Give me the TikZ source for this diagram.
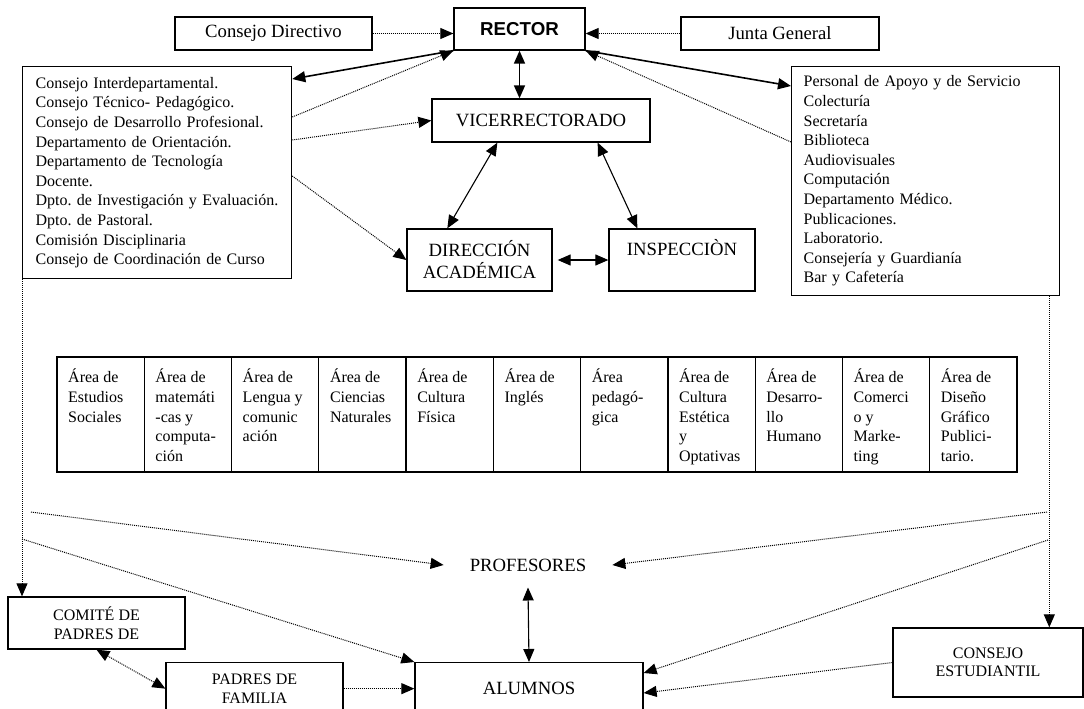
\documentclass[tikz,border=0pt]{standalone}
\usepackage{fontspec}
\setmainfont{Liberation Serif}
\newfontfamily\rectorfont{Liberation Sans}
\usetikzlibrary{arrows.meta, positioning, calc}
\frenchspacing

\begin{document}
\begin{tikzpicture}[x=1pt, y=-1pt, >={Triangle[length=13pt,width=11pt]},
  box/.style={draw, line width=1.3pt, inner sep=0pt, align=center},
  big/.style={font=\fontsize{18.7}{22}\selectfont},
  small/.style={font=\fontsize{16}{18.5}\selectfont},
  list/.style={font=\fontsize{16}{19.6}\selectfont, align=left},
  link/.style={line width=1.6pt},
  thinlink/.style={line width=1.1pt},
  dot/.style={line width=1pt, dash pattern=on 1pt off 1pt}
]
\useasboundingbox (0,0) rectangle (1084,709);

% Top row
\node[box, big, minimum width=197pt, minimum height=33pt] (cdir) at (273.5,33.5) {Consejo Directivo};
\node[box, font={\rectorfont\bfseries\fontsize{18.7}{22}\selectfont}, minimum width=131pt, minimum height=42pt] (rector) at (519.5,29) {RECTOR};
\node[box, big, minimum width=198pt, minimum height=33pt] (junta) at (780,33.5) {Junta General};

% Side lists
\node[box, list, anchor=north west, text width=243pt, inner xsep=13pt, minimum height=212pt] (council) at (22,66) {Consejo Interdepartamental.\\
  Consejo Técnico- Pedagógico.\\
  Consejo de Desarrollo Profesional.\\
  Departamento de Orientación.\\
  Departamento de Tecnología\\
  Docente.\\
  Dpto. de Investigación y Evaluación.\\
  Dpto. de Pastoral.\\
  Comisión Disciplinaria\\
  Consejo de Coordinación de Curso};
\node[box, list, anchor=north west, text width=244pt, inner xsep=12pt, minimum height=229pt] (services) at (791,66) {Personal de Apoyo y de Servicio\\
  Colecturía\\
  Secretaría\\
  Biblioteca\\
  Audiovisuales\\
  Computación\\
  Departamento Médico.\\
  Publicaciones.\\
  Laboratorio.\\
  Consejería y Guardianía\\
  Bar y Cafetería};

% Middle
\node[box, big, minimum width=218pt, minimum height=43pt] (vice) at (541,120.5) {VICERRECTORADO};
\node[box, big, minimum width=145pt, minimum height=62pt] (dir) at (479.5,260) {DIRECCIÓN\\ACADÉMICA};
\node[box, big, minimum width=146pt, minimum height=62pt, text height=14pt, text depth=23pt] (insp) at (682,260) {INSPECCIÒN};

% Areas
\draw[line width=1.3pt] (57,357) rectangle (1017,472);
\foreach \i in {1,...,10}
  \draw[line width=1.3pt] ({57+87.27*\i},357) -- ({57+87.27*\i},472);
\foreach \txt [count=\i from 0] in {{Área de\\Estudios\\Sociales},
    {Área de\\matemáti\\-cas y\\computa-\\ción},
    {Área de\\Lengua y\\comunic\\ación},
    {Área de\\Ciencias\\Naturales},
    {Área de\\Cultura\\Física},
    {Área de\\Inglés},
    {Área\\pedagó-\\gica},
    {Área de\\Cultura\\Estética\\y\\Optativas},
    {Área de\\Desarro-\\llo\\Humano},
    {Área de\\Comerci\\o y\\Marke-\\ting},
    {Área de\\Diseño\\Gráfico\\Publici-\\tario.}}
  \node[list, inner sep=0pt, anchor=north west] (area\i) at ({68+87.27*\i},369) {\txt};

% Bottom
\node[big, inner xsep=26pt, inner ysep=16pt] (prof) at (528,565) {PROFESORES};
\node[box, big, anchor=north, minimum width=228pt, minimum height=52pt] (alum) at (529,662) {ALUMNOS};
\node[box, small, anchor=north, minimum width=177pt, minimum height=52pt] (padres) at (254.5,662) {PADRES DE\\FAMILIA};
\node[box, small, minimum width=177pt, minimum height=52pt] (comite) at (96.5,623) {COMITÉ DE\\PADRES DE};
\node[box, small, minimum width=190pt, minimum height=69pt] (cest) at (988,662.5) {CONSEJO\\ESTUDIANTIL};

% Connections at the top
\draw[dot, ->] (cdir.east) -- (cdir.east -| rector.west);
\draw[dot, ->] (junta.west) -- (junta.west -| rector.east);
\draw[link, <->] (rector.south) -- (rector.south |- vice.north);
\draw[link, ->] (rector.south west) -- ($(council.north east)+(0,13)$);
\draw[dot, ->] ($(council.north east)+(0,51)$) -- (rector.south west);
\draw[dot, ->] ($(council.north east)+(0,74)$) -- (vice.west);
\draw[dot, ->] ($(council.north east)+(0,110)$) -- (dir.west);
\draw[link, ->] (rector.south east) -- ($(services.north west)+(0,20)$);
\draw[dot, ->] ($(services.north west)+(0,76)$) -- (rector.south east);

% Vicerrectorado, direccion, inspeccion
\draw[thinlink, <->] ($(vice.south west)+(66,0)$) -- ($(dir.north west)+(41,0)$);
\draw[thinlink, <->] ($(vice.south east)+(-53,0)$) -- ($(insp.north west)+(29,0)$);
\draw[thinlink, <->] ([xshift=5pt]dir.east) -- (insp.west);

% Drops to the bottom
\draw[dot, ->] (council.south west) -- (council.south west |- comite.north);
\coordinate (rdrop) at ($(services.south east)+(-11,0)$);
\draw[dot, ->] (rdrop) -- (rdrop |- cest.north);

% Lines to profesores and alumnos
\coordinate (lA) at (31,512);
\coordinate (lB) at (22,539);
\coordinate (rA) at (1047,512);
\coordinate (rB) at (1048,540);
\draw[dot, ->] (lA) -- (prof.west);
\draw[dot, ->] (lB) -- (alum.north west);
\draw[dot, ->] (rA) -- (prof.east);
\draw[dot, ->] (rB) -- ($(alum.north east)+(0,11)$);
\draw[dot, ->] (cest.west) -- ($(alum.north east)+(0,31)$);
\draw[thinlink, <->] (prof.south) -- (alum.north);
\draw[dot, <->] (comite.south) -- (padres.west);
\draw[dot, ->] (padres.east) -- (alum.west);

\end{tikzpicture}
\end{document}
